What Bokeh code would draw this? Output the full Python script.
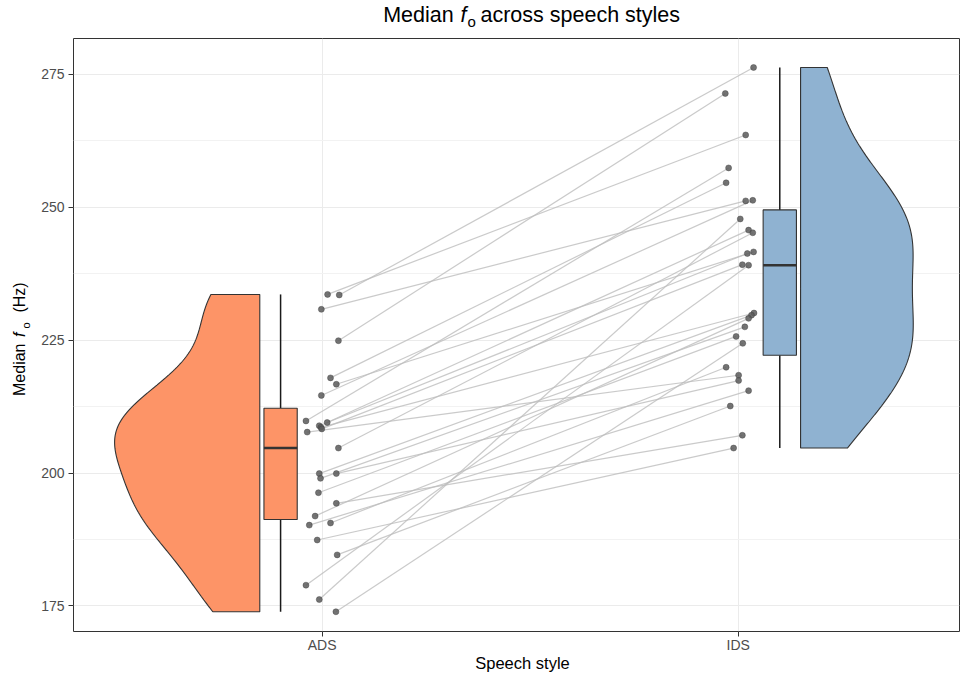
import numpy as np
from bokeh.plotting import figure
from bokeh.layouts import column, row
from bokeh.models import FixedTicker
from bokeh.core.properties import value
from bokeh.embed import file_html
from bokeh.resources import INLINE

styles = ["ADS", "IDS"]
y_ticks = [175, 200, 225, 250, 275]
y_minor = [187.5, 212.5, 237.5, 262.5]

# one entry per talker: median f0 (Hz) in each style, plus the jitter of each dot
ads_f0 = [233.6, 233.5, 230.8, 224.9, 217.9, 216.7, 214.6, 209.8, 209.5, 208.9,
          208.6, 208.3, 207.7, 204.7, 199.9, 199.9, 199.0, 196.3, 194.3, 191.9,
          190.6, 190.2, 187.4, 184.6, 178.9, 176.2, 173.9]
ids_f0 = [263.6, 276.3, 251.2, 271.4, 254.6, 241.6, 251.3, 257.4, 245.7, 241.3,
          230.1, 239.2, 218.4, 245.2, 229.7, 217.4, 227.5, 225.7, 207.1, 229.1,
          219.9, 215.5, 204.7, 212.6, 239.1, 247.8, 224.4]
ads_jit = [0.013, 0.041, -0.002, 0.039, 0.020, 0.034, -0.002, -0.039, 0.012, -0.007,
           -0.003, -0.001, -0.036, 0.039, -0.007, 0.034, -0.004, -0.009, 0.034, -0.017,
           0.020, -0.031, -0.012, 0.036, -0.039, -0.007, 0.033]
ids_jit = [0.018, 0.037, 0.018, -0.031, -0.029, 0.037, 0.035, -0.023, 0.025, 0.022,
           0.038, 0.010, 0.001, 0.035, 0.032, 0.001, 0.016, -0.005, 0.010, 0.025,
           -0.029, 0.025, -0.011, -0.019, 0.025, 0.005, 0.011]

fills = ["#FD9467", "#8FB2D1"]
edge = "#333333"
font = "Liberation Sans"

# page pieces (px): title strip, then y-title strip + plot, then x-title strip
W, H = 960, 673
TH = 36                      # title strip height
YW = 32                      # y title strip width
FL, FT, FB = 73, 38, 633     # frame left / top / bottom on the page
PW = W - YW
PH = (FT - TH) + (FB - FT) + 22
XH = H - TH - PH
X0, PXX = 0.4022, 416.0      # x at frame left, px per category step
Y1, PXY = 281.75, 5.3333     # y at frame top, px per Hz
FRAME_W = W - 1 - FL
SHIFT = 0.38                 # text glyphs land this many font sizes below their anchor


def kde(vals, grid):
    v = np.asarray(vals)
    q75, q25 = np.percentile(v, [75, 25])
    bw = 0.9 * min(v.std(ddof=1), (q75 - q25) / 1.34) * len(v) ** -0.2
    z = (grid[:, None] - v[None, :]) / bw
    return np.exp(-0.5 * z ** 2).sum(axis=1) / (len(v) * bw * np.sqrt(2 * np.pi))


def strip(w, h, y_range):
    f = figure(width=w, height=h, output_backend="svg", toolbar_location=None,
               x_range=(0, w), y_range=y_range, x_axis_type=None, y_axis_type=None,
               min_border=0)
    f.grid.visible = False
    f.outline_line_color = None
    f.background_fill_color = "white"
    f.border_fill_color = "white"
    return f


def put(f, x, base, s, size, style="normal", vertical=False, align="left"):
    # base: where the baseline should sit (page px)
    off = SHIFT * size
    x, y = (base - off, x) if vertical else (x, base - off)
    f.text(x=[x], y=[y], text=[s], text_font=value(font), text_font_size=value(f"{size}px"),
           text_font_style=value(style), text_color="black", text_baseline="alphabetic",
           text_align=align, angle=np.pi / 2 if vertical else 0.0)


p = figure(width=PW, height=PH, output_backend="svg", toolbar_location=None,
           x_range=(X0, X0 + FRAME_W / PXX), y_range=(Y1 - (FB - FT) / PXY, Y1),
           min_border_left=FL - YW, min_border_top=FT - TH, min_border_right=1,
           min_border_bottom=PH - (FB - TH))
p.background_fill_color = "white"
p.border_fill_color = "white"
p.outline_line_color = edge
p.outline_line_width = 1

# half violins, flat side towards the dots
groups = [ads_f0, ids_f0]
grids = [np.linspace(min(g), max(g), 512) for g in groups]
dens = [kde(g, gr) for g, gr in zip(groups, grids)]
dmax = max(d.max() for d in dens)
side = [-1, 1]
for i, (gr, d) in enumerate(zip(grids, dens)):
    base = i + 1 + side[i] * 0.150
    w = d / dmax * 0.349
    xs = np.concatenate([[base], base + side[i] * w, [base]])
    ys = np.concatenate([[gr[0]], gr, [gr[-1]]])
    p.patch(xs, ys, fill_color=fills[i], line_color=edge, line_width=1.1)

# boxplots
for i, g in enumerate(groups):
    v = np.asarray(g)
    q1, med, q3 = np.percentile(v, [25, 50, 75])
    iqr = q3 - q1
    lo = v[v >= q1 - 1.5 * iqr].min()
    hi = v[v <= q3 + 1.5 * iqr].max()
    c = i + 1 + side[i] * 0.100
    p.segment(x0=[c, c], y0=[q3, q1], x1=[c, c], y1=[hi, lo], line_color="#1A1A1A", line_width=1.5)
    p.quad(left=c - 0.040, right=c + 0.040, bottom=q1, top=q3,
           fill_color=fills[i], line_color=edge, line_width=1.1)
    p.segment(x0=c - 0.040, y0=med, x1=c + 0.040, y1=med, line_color=edge, line_width=2.5)

# paired lines and dots
ax = 1 + np.asarray(ads_jit)
ix = 2 + np.asarray(ids_jit)
p.segment(x0=ax, y0=ads_f0, x1=ix, y1=ids_f0, line_color="#BDBDBD", line_alpha=0.8, line_width=1.2)
p.scatter(np.concatenate([ax, ix]), ads_f0 + ids_f0, size=6, fill_color="#5A5A5A",
          fill_alpha=0.85, line_color="#3C3C3C", line_alpha=0.7, line_width=0.6)

# axes
p.xaxis.ticker = FixedTicker(ticks=[1, 2])
p.xaxis.major_label_overrides = {i + 1: s for i, s in enumerate(styles)}
p.yaxis.ticker = FixedTicker(ticks=y_ticks, minor_ticks=y_minor)
for a in (p.xaxis, p.yaxis):
    a.axis_line_color = None
    a.major_tick_line_color = edge
    a.major_tick_in = 0
    a.major_tick_out = 5
    a.minor_tick_line_color = None
    a.major_label_text_font = font
    a.major_label_text_font_size = "14px"
    a.major_label_text_color = "#4D4D4D"
p.xaxis.major_label_standoff = 0
p.yaxis.major_label_standoff = 4
p.xgrid.grid_line_color = "#EBEBEB"
p.ygrid.grid_line_color = "#EBEBEB"
p.ygrid.minor_grid_line_color = "#F2F2F2"

# title: Median f_o across speech styles (italic f, subscript o)
t = strip(W, TH, (TH, 0))
put(t, 382.7, 23.0, "Median", 21.5)
put(t, 460.0, 23.0, "f", 21.5, style="italic")
put(t, 467.0, 27.0, "o", 15)
put(t, 480.0, 23.0, "across speech styles", 21.5)

# y title, read bottom to top; this strip's frame lines up with the plot frame
yl = strip(YW, PH, (FB, FT))
put(yl, 396.7, 25.5, "Median", 16, vertical=True)
put(yl, 337.5, 25.5, "f", 16, style="italic", vertical=True)
put(yl, 329.0, 29.5, "o", 11.2, vertical=True)
put(yl, 313.0, 25.5, "(Hz)", 16, vertical=True)

# x title
xl = strip(W, XH, (H, H - XH))
put(xl, 522.0, 669.0, "Speech style", 16.5, align="center")

page = column(t, row(yl, p, spacing=0), xl, spacing=0)
open("out.html", "w").write(file_html(page, INLINE))
